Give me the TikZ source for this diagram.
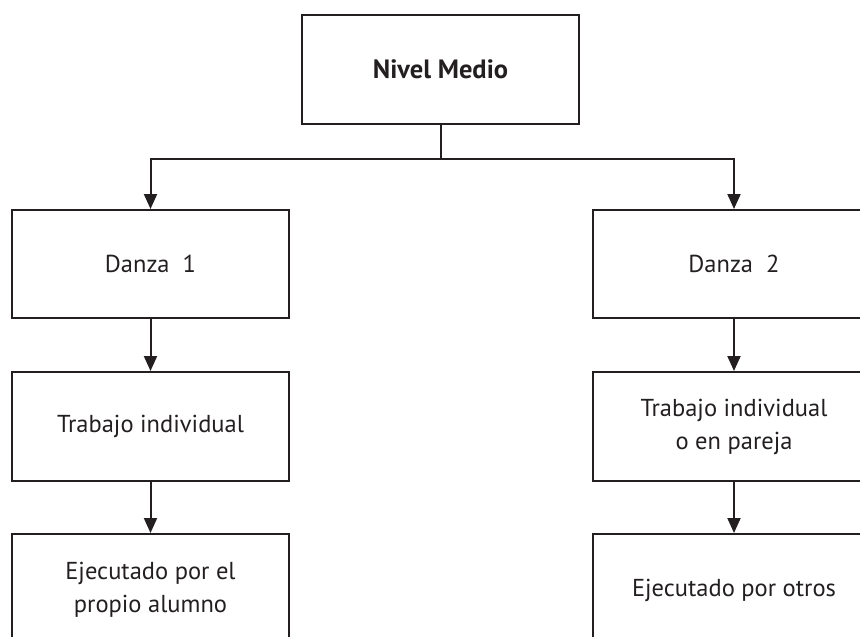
\documentclass[tikz,border=0pt]{standalone}
\usepackage{fontspec}
\setmainfont{PT Sans}
\usetikzlibrary{arrows.meta}
\definecolor{ink}{HTML}{231F20}
\begin{document}
\begin{tikzpicture}[x=1pt,y=-1pt,
  box/.style={draw=ink,line width=2pt,rectangle,minimum width=277pt,inner sep=0pt,
    align=center,font=\fontsize{24.5}{33}\selectfont,text=ink},
  arr/.style={draw=ink,line width=2pt,-{Triangle[length=15pt,width=13pt]}},
  ln/.style={draw=ink,line width=2pt}]
\useasboundingbox (0,0) rectangle (860,637);
\clip (0,0) rectangle (860,637);
\node[box,minimum height=109pt,minimum width=277pt,font=\bfseries\fontsize{26.5}{33}\selectfont] (top) at (440.5,69.5) {Nivel Medio};
\node[box,minimum height=108pt] (d1) at (150.5,264) {Danza\ \ 1};
\node[box,minimum height=108pt,minimum width=282pt] (d2) at (734,264) {Danza\ \ 2};
\node[box,minimum height=109pt] (t1) at (150.5,426.5) {Trabajo individual};
\node[box,minimum height=109pt,minimum width=282pt] (t2) at (734,426.5) {Trabajo individual\\o en pareja};
\node[box,minimum height=112pt] (e1) at (150.5,590) {Ejecutado por el\\propio alumno};
\node[box,minimum height=112pt,minimum width=282pt] (e2) at (734,590) {Ejecutado por otros};
\coordinate (j) at (440.5,159);
\draw[ln] (top.south) -- (j);
\draw[arr] (j) -| (d1.north);
\draw[arr] (j) -| (d2.north);
\draw[arr] (d1) -- (t1);
\draw[arr] (d2) -- (t2);
\draw[arr] (t1) -- (e1);
\draw[arr] (t2) -- (e2);
\end{tikzpicture}
\end{document}
